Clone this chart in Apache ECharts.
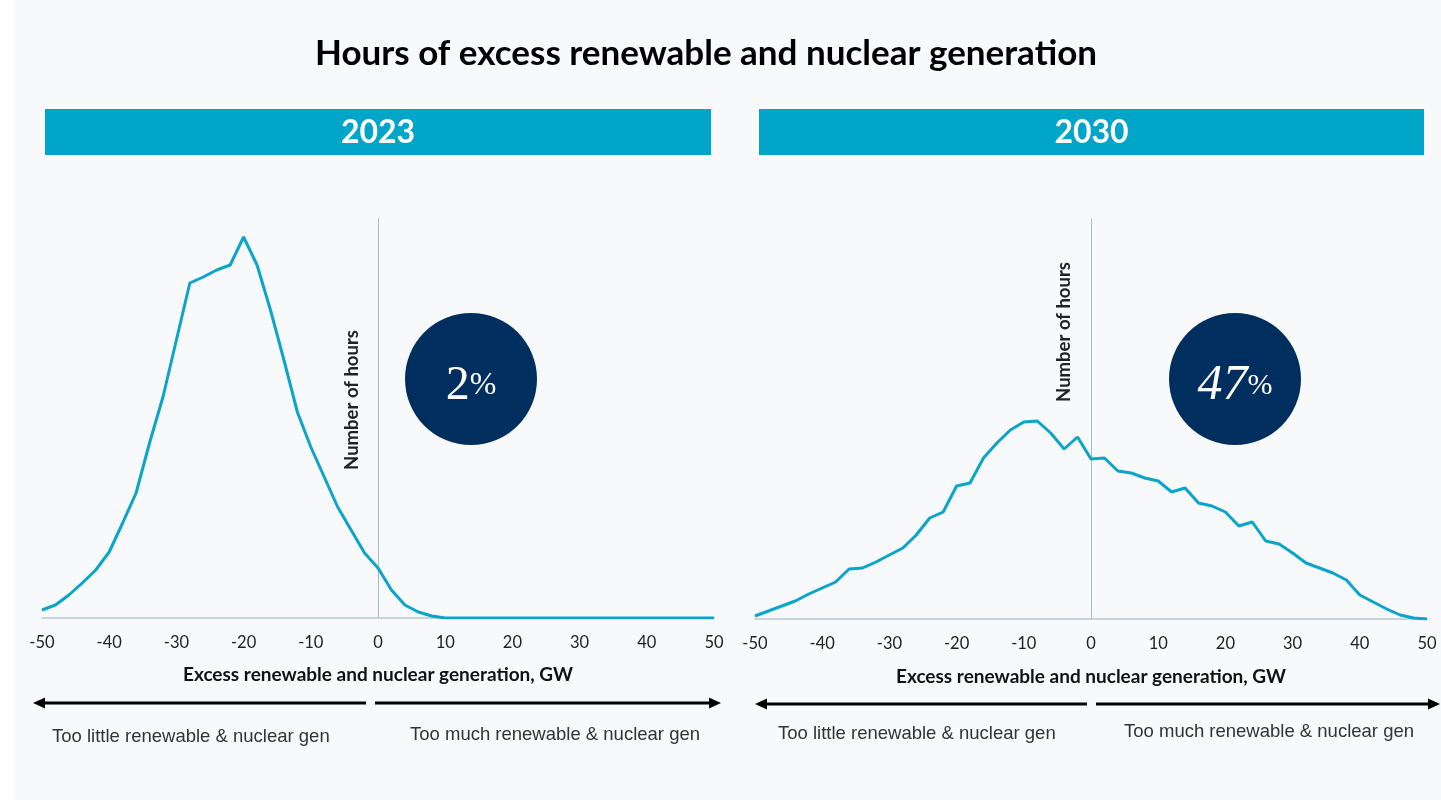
<!DOCTYPE html>
<html>
<head>
<meta charset="utf-8">
<script src="https://cdn.jsdelivr.net/npm/echarts@6/dist/echarts.min.js"></script>
<style>
html,body{margin:0;padding:0;background:#fff;}
#chart{width:1441px;height:800px;}
</style>
</head>
<body>
<div id="chart"></div>
<script>
// excess generation, GW (x positions of the points)
var gw = [-50,-48,-46,-44,-42,-40,-38,-36,-34,-32,
          -30,-28,-26,-24,-22,-20,-18,-16,-14,-12,
          -10,-8,-6,-4,-2,0,2,4,6,8,
          10,12,14,16,18,20,22,24,26,28,
          30,32,34,36,38,40,42,44,46,48,50];
// number of hours (relative)
var hours2023 = [8,13,23,35,48,66,95,125,175,221,
                 278,335,341,348,353,381,353,308,258,206,
                 171,141,111,88,65,50,28,13,6,2,
                 0,0,0,0,0,0,0,0,0,0,
                 0,0,0,0,0,0,0,0,0,0,0];
var hours2030 = [3,8,13,18,25,31,37,50,51,57,
                 64,71,84,101,107,133,136,161,176,189,
                 197,198,186,170,182,160,161,148,146,141,
                 138,127,131,116,113,107,93,97,78,75,
                 66,56,51,46,39,24,17,10,4,1,0];
var years = ['2023', '2030'];
var shares = ['2', '47'];
var titleText = 'Hours of excess renewable and nuclear generation';
var xName = 'Excess renewable and nuclear generation, GW';
var yName = 'Number of hours';
var leftNote = 'Too little renewable & nuclear gen';
var rightNote = 'Too much renewable & nuclear gen';

var teal = '#0aa5c9';
var navy = '#002f5f';

function pairs(ys){
    var out = [];
    gw.forEach(function(x, i){ out.push([x, ys[i]]); });
    return out;
}

function xAxisCfg(idx, gap){
    return {
        gridIndex: idx, type: 'value', min: -50, max: 50, interval: 10,
        axisLine: {lineStyle: {color: '#b6c9d1', width: 1.5}},
        axisTick: {show: false},
        splitLine: {show: false},
        axisLabel: {fontFamily: 'Lato', fontSize: 16.5, color: '#222', margin: 16},
        name: xName, nameLocation: 'middle', nameGap: gap,
        nameTextStyle: {fontFamily: 'Lato', fontWeight: 'bold', fontSize: 19, color: '#111'}
    };
}
function yAxisCfg(idx){
    return {
        gridIndex: idx, type: 'value', min: 0, max: 400,
        axisLine: {show: true, onZero: true, lineStyle: {color: '#a9bdc6', width: 1}},
        axisTick: {show: false}, axisLabel: {show: false}, splitLine: {show: false}
    };
}

// arrow drawn as a line plus a triangle head
function arrow(x1, x2, y, dir){
    var tip = dir < 0 ? x1 : x2;
    var base = tip - dir * 12;
    return {
        type: 'group', children: [
            {type: 'line', shape: {x1: dir < 0 ? base : x1, y1: y, x2: dir < 0 ? x2 : base, y2: y},
             style: {stroke: '#000', lineWidth: 3}},
            {type: 'polygon', shape: {points: [[tip, y], [base, y - 5.5], [base, y + 5.5]]},
             style: {fill: '#000'}}
        ]
    };
}

function panelGraphics(i, barX, barW, cx, yNameX, yNameY, arrowY, noteY, leftX, rightX, a){
    var g = [];
    g.push({type: 'rect', shape: {x: barX, y: 109, width: barW, height: 46}, style: {fill: '#00a5c8'}});
    g.push({type: 'text', x: barX + barW / 2, y: 133,
        style: {text: years[i], fill: '#fff', font: 'bold 32px Lato', textAlign: 'center', textVerticalAlign: 'middle'}});
    g.push({type: 'circle', shape: {cx: cx, cy: 379, r: 66}, style: {fill: navy}});
    g.push({type: 'text', x: cx, y: 386,
        style: {text: '{n|' + shares[i] + '}{p|%}', textAlign: 'center', textVerticalAlign: 'middle',
            rich: {
                n: {fontFamily: 'Liberation Serif', fontStyle: i ? 'italic' : 'normal', fontSize: i ? 50 : 48, fill: '#fff'},
                p: {fontFamily: 'Liberation Serif', fontSize: i ? 30 : 32, fill: '#fff'}
            }}});
    g.push({type: 'text', x: yNameX, y: yNameY, rotation: Math.PI / 2,
        style: {text: yName, fill: '#222', font: 'bold 18.5px Lato', textAlign: 'center', textVerticalAlign: 'middle'}});
    g.push(arrow(a[0], a[1], arrowY, -1));
    g.push(arrow(a[2], a[3], arrowY, 1));
    g.push({type: 'text', x: leftX, y: noteY,
        style: {text: leftNote, fill: '#333', font: '18.5px "Liberation Sans"', textVerticalAlign: 'middle'}});
    g.push({type: 'text', x: rightX, y: noteY - 2,
        style: {text: rightNote, fill: '#333', font: '18.5px "Liberation Sans"', textVerticalAlign: 'middle'}});
    return g;
}

var chart = echarts.init(document.getElementById('chart'));
var graphics = [
    {type: 'rect', z: -10, shape: {x: 15, y: 0, width: 1426, height: 800}, style: {fill: '#f7f9fb'}},
    {type: 'text', x: 706, y: 54,
     style: {text: titleText, fill: '#000', font: 'bold 35px Lato', textAlign: 'center', textVerticalAlign: 'middle'}}
];
graphics = graphics.concat(
    panelGraphics(0, 45, 666, 471, 352, 400, 703, 737, 52, 410, [33, 366, 375, 721]),
    panelGraphics(1, 759, 665, 1235, 1064, 332, 704, 734, 778, 1124, [755, 1087, 1096, 1440])
);

chart.setOption({
    animation: false,
    grid: [
        {left: 42, right: 727, top: 218, bottom: 182},
        {left: 755, right: 14, top: 219, bottom: 181}
    ],
    xAxis: [xAxisCfg(0, 47), xAxisCfg(1, 48)],
    yAxis: [yAxisCfg(0), yAxisCfg(1)],
    series: [
        {type: 'line', xAxisIndex: 0, yAxisIndex: 0, data: pairs(hours2023), symbol: 'none',
         lineStyle: {color: teal, width: 3}, itemStyle: {color: teal}},
        {type: 'line', xAxisIndex: 1, yAxisIndex: 1, data: pairs(hours2030), symbol: 'none',
         lineStyle: {color: teal, width: 3}, itemStyle: {color: teal}}
    ],
    graphic: graphics
});
</script>
</body>
</html>
